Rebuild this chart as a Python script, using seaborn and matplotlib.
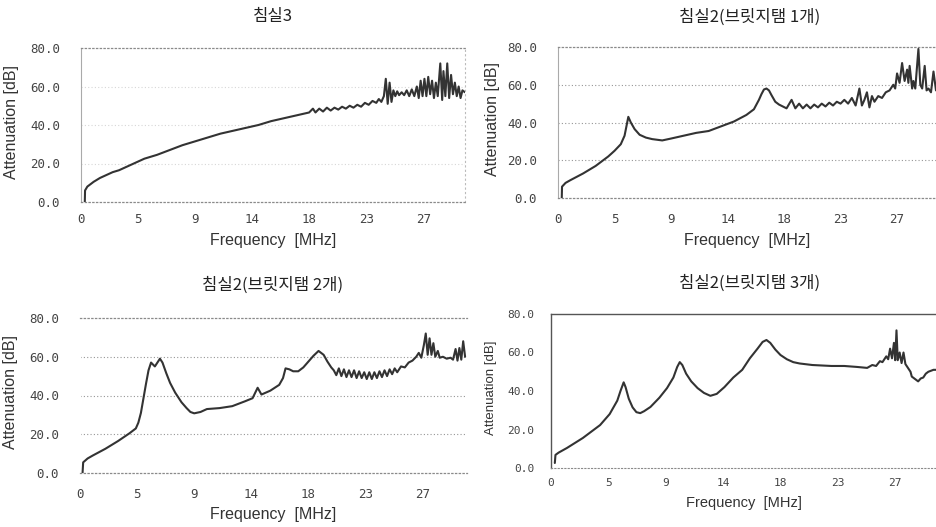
import matplotlib
matplotlib.use("Agg")
import matplotlib.pyplot as plt
import seaborn as sns
import pandas as pd

# ---------------- data ----------------
titles = ["침실3", "침실2(브릿지탬 1개)", "침실2(브릿지탬 2개)", "침실2(브릿지탬 3개)"]
x_tick_pos = [0, 4.5, 9, 13.5, 18, 22.5, 27]
x_tick_labels = ["0", "5", "9", "14", "18", "23", "27"]
y_tick_pos = [0, 20, 40, 60, 80]
y_tick_labels = ["0.0", "20.0", "40.0", "60.0", "80.0"]

freq_room3 = [0.3, 0.32, 0.5, 0.8, 1.0, 1.5, 2.0, 2.5, 3.0, 4.0, 5.0, 6.0, 7.0, 8.0,
              9.0, 10.0, 11.0, 12.0, 13.0, 14.0, 15.0, 16.0, 17.0, 18.0, 18.3, 18.5,
              18.8, 19.1, 19.4, 19.7, 20.0, 20.3, 20.6, 20.9, 21.2, 21.5, 21.8, 22.1,
              22.4, 22.7, 23.0, 23.3, 23.5, 23.7, 23.9, 24.05, 24.2, 24.35, 24.5, 24.65,
              24.8, 24.95, 25.1, 25.3, 25.5, 25.7, 25.9, 26.1, 26.3, 26.5, 26.65, 26.8,
              26.95, 27.1, 27.25, 27.4, 27.55, 27.7, 27.85, 28.0, 28.15, 28.35, 28.5,
              28.6, 28.75, 28.9, 29.05, 29.2, 29.35, 29.5, 29.65, 29.8, 29.95, 30.1, 30.3]
att_room3 = [0, 6, 8, 9.5, 10.5, 12.5, 14, 15.5, 16.5, 19.5, 22.5, 24.5, 27, 29.5,
             31.5, 33.5, 35.5, 37, 38.5, 40, 42, 43.5, 45, 46.5, 48.5, 46.5,
             48.5, 47, 49, 47.5, 49, 48, 49.5, 48.5, 50, 49, 50.5, 49.5,
             51.5, 50.5, 52.5, 51.5, 53.5, 52, 55, 64, 51, 62, 52, 58,
             55, 57.5, 55.5, 57, 55.5, 58, 55, 58.5, 55, 60, 54, 63,
             55, 64, 55, 65, 56, 63, 54, 62, 55, 72, 53,
             68, 55, 72, 54, 66, 56, 62, 55, 60, 54, 58, 57]

freq_bridge1 = [0.3, 0.32, 0.6, 1.0, 2.0, 3.0, 4.0, 4.5, 5.0, 5.3, 5.6, 5.8, 6.1, 6.5,
                7.0, 7.5, 8.3, 9.0, 10.0, 11.0, 12.0, 13.0, 14.0, 15.0, 15.6, 16.0,
                16.2, 16.4, 16.6, 16.8, 17.0, 17.3, 17.6, 17.9, 18.2, 18.6, 18.9, 19.2,
                19.5, 19.8, 20.1, 20.4, 20.7, 21.0, 21.3, 21.6, 21.9, 22.2, 22.5, 22.8,
                23.1, 23.4, 23.7, 24.0, 24.2, 24.4, 24.6, 24.8, 25.0, 25.2, 25.5, 25.8,
                26.1, 26.4, 26.7, 26.85, 27.0, 27.2, 27.4, 27.6, 27.8, 27.9, 28.0, 28.2,
                28.3, 28.45, 28.7, 28.85, 29.0, 29.2, 29.35, 29.5, 29.7, 29.9, 30.1]
att_bridge1 = [0, 6, 8, 9.5, 13, 17, 22, 25, 28.5, 33, 43, 40, 36.5, 33.5,
               32, 31.2, 30.5, 31.5, 33, 34.5, 35.5, 38, 40.5, 44, 47, 52,
               55, 57.5, 58, 57, 54.5, 51, 49.5, 48.5, 47.5, 52, 47.5, 50,
               47.5, 49.5, 47.5, 49.5, 48, 50, 48.5, 50.5, 49, 51, 50, 52,
               50, 53, 49, 58, 49, 52, 56, 48, 54, 51, 54, 53,
               56, 57, 60, 58, 66, 61, 71.5, 62, 68, 61, 70, 58,
               62, 58, 79, 60, 58, 70, 57, 58, 56, 67, 57]

freq_bridge2 = [0.2, 0.25, 0.6, 1.0, 2.0, 3.0, 3.9, 4.4, 4.6, 4.8, 5.0, 5.2, 5.4, 5.6,
                5.9, 6.3, 6.5, 6.8, 7.1, 7.5, 8.0, 8.4, 8.7, 9.0, 9.5, 10.0, 11.0,
                12.0, 13.0, 13.6, 14.0, 14.3, 15.0, 15.7, 16.0, 16.2, 16.5, 16.8, 17.2,
                17.6, 18.0, 18.4, 18.8, 19.0, 19.2, 19.5, 19.8, 20.0, 20.2, 20.4, 20.6,
                20.8, 21.0, 21.2, 21.4, 21.6, 21.8, 22.0, 22.2, 22.4, 22.6, 22.8, 23.0,
                23.2, 23.4, 23.6, 23.8, 24.0, 24.2, 24.4, 24.6, 24.8, 25.0, 25.3, 25.6,
                25.9, 26.2, 26.5, 26.7, 26.9, 27.1, 27.25, 27.4, 27.55, 27.7, 27.85,
                28.0, 28.2, 28.35, 28.6, 28.9, 29.2, 29.4, 29.6, 29.75, 29.9, 30.05,
                30.2, 30.35]
att_bridge2 = [0, 5.5, 7.5, 9, 12.5, 16.5, 20.5, 23, 26, 31, 38.5, 46, 53, 57,
               55, 59, 57, 51.5, 46.5, 41.5, 36.5, 33.5, 31.5, 30.8, 31.5, 33, 33.5,
               34.5, 37, 38.6, 44, 40.5, 42.5, 45.5, 49, 54, 53.5, 52.5, 52.5,
               54.5, 57.5, 60.5, 63, 62, 61, 57.5, 54.5, 53, 50.5, 54, 50,
               53.5, 49.5, 53, 49.5, 53, 49, 52.5, 49, 52, 48.5, 52, 48.5,
               52, 49, 52.5, 49.5, 53, 50, 53.5, 51, 54, 52, 55, 54.5,
               57, 58, 60, 62, 59.5, 66, 72, 61, 69.5, 61, 67,
               60, 63, 59.5, 60, 59, 59.5, 58.5, 64, 58, 64.5, 58.5,
               68, 60]

freq_bridge3 = [0.3, 0.35, 0.6, 1.25, 2.5, 3.85, 4.6, 5.2, 5.45, 5.7, 5.85, 6.1, 6.4,
                6.7, 7.0, 7.3, 7.8, 8.5, 9.1, 9.6, 9.9, 10.1, 10.3, 10.6, 11.0, 11.5,
                12.0, 12.5, 13.0, 13.6, 14.3, 15.0, 15.6, 16.2, 16.6, 16.9, 17.2, 17.6,
                18.0, 18.5, 19.0, 19.5, 20.5, 22.0, 23.0, 24.0, 24.8, 25.2, 25.5, 25.8,
                26.0, 26.3, 26.45, 26.6, 26.75, 26.9, 27.0, 27.1, 27.2, 27.35, 27.5,
                27.65, 27.8, 28.0, 28.2, 28.3, 28.6, 28.8, 29.0, 29.2, 29.4, 29.6, 29.8,
                30.0, 30.2]
att_bridge3 = [2.6, 6.8, 8, 10.4, 15.6, 22.3, 28, 35, 40, 44.5, 42, 36, 31.5,
               29, 28.5, 29.5, 31.7, 36.5, 41.5, 47, 52.5, 55, 53.5, 49, 45, 41.5,
               39, 37.5, 38.5, 42, 47, 51, 57, 62, 65.5, 66.5, 65, 61.5,
               58.7, 56.5, 55, 54.3, 53.5, 53, 53, 52.5, 52, 53.5, 53, 55.5,
               55, 58, 56.5, 62, 57, 65, 56, 71.5, 56, 60, 54.5,
               60, 54, 52, 50, 47.5, 46, 45, 46.5, 47, 49, 50, 50.5,
               51, 51]

series = [(freq_room3, att_room3), (freq_bridge1, att_bridge1),
          (freq_bridge2, att_bridge2), (freq_bridge3, att_bridge3)]

# ---------------- layout / style ----------------
sns.set_style("white")
plt.rcParams['font.family'] = ['Liberation Sans', 'DejaVu Sans']

W, H = 936, 527
fig = plt.figure(figsize=(W / 100, H / 100), dpi=100)

# axes boxes in pixels: (left, top, right, bottom), xmax
boxes = [(81, 48, 465, 202, 30.3),
         (558, 47, 936, 198, 30.1),
         (80, 318, 467, 473, 30.5),
         (551, 314, 936, 468, 30.2)]
title_pos = [(273, 17), (750, 17), (273, 285), (750, 283)]
ylab_x = [19, 500, 18, 497]
xlab_y = [240, 241, 515, 503]
xtick_pad = [8, 11, 11, 7]
small = [False, False, False, True]

line_color = "#333333"
grid_color = "#8a8a8a"

for i, ((f, a), (l, t, r, b, xmax)) in enumerate(zip(series, boxes)):
    ax = fig.add_axes([l / W, 1 - b / H, (r - l) / W, (b - t) / H])
    df = pd.DataFrame({"Frequency": f, "Attenuation": a})
    sns.lineplot(data=df, x="Frequency", y="Attenuation", ax=ax, color=line_color,
                 lw=1.5, estimator=None, sort=False)
    ax.set_xlim(0, xmax)
    ax.set_ylim(0, 80)
    ax.set_xticks(x_tick_pos)
    ax.set_yticks(y_tick_pos)
    tick_fs = 8 if small[i] else 9
    ax.set_xticklabels(x_tick_labels, fontsize=tick_fs, family="DejaVu Sans Mono", color="#444444")
    ax.set_yticklabels(y_tick_labels, fontsize=tick_fs, family="DejaVu Sans Mono", color="#444444")
    ax.tick_params(axis="both", length=0)
    ax.tick_params(axis="x", pad=xtick_pad[i])
    ax.tick_params(axis="y", pad=15 if not small[i] else 12)

    if i == 3:
        for s in ["left", "top"]:
            ax.spines[s].set_color("#555555")
            ax.spines[s].set_linewidth(1.0)
        ax.spines["bottom"].set_linestyle((0, (1, 2)))
        ax.spines["bottom"].set_color(grid_color)
        ax.spines["right"].set_visible(False)
    else:
        gl_alpha = 0.35 if i == 0 else 0.9
        for yv in [20, 40, 60]:
            ax.axhline(yv, color=grid_color, lw=0.8, ls=(0, (1, 2)), alpha=gl_alpha, zorder=0)
        for s in ["top", "bottom"]:
            ax.spines[s].set_linestyle((0, (1, 2)))
            ax.spines[s].set_color(grid_color)
            ax.spines[s].set_linewidth(0.9)
        ax.spines["left"].set_color("#aaaaaa" if i != 2 else "white")
        ax.spines["left"].set_linewidth(0.8)
        if i == 0:
            ax.spines["right"].set_linestyle((0, (1, 3)))
            ax.spines["right"].set_color("#bbbbbb")
        else:
            ax.spines["right"].set_visible(False)

    lab_fs = 9.5 if small[i] else 11.5
    ax.set_ylabel("Attenuation [dB]", fontsize=lab_fs, color="#333333")
    ax.set_xlabel("Frequency  [MHz]", fontsize=10.5 if small[i] else 11.5, color="#333333")
    ax.yaxis.set_label_coords((ylab_x[i] - l) / (r - l), 0.52)
    ax.xaxis.label.set_va("center")
    ax.xaxis.set_label_coords(0.5, -(xlab_y[i] - b) / (b - t))

    tx, ty = title_pos[i]
    fig.text(tx / W, 1 - ty / H, titles[i], ha="center", va="center", fontsize=12,
             family=["Noto Sans CJK KR", "DejaVu Sans"], color="#222222")

fig.savefig("out.png", dpi=100)
